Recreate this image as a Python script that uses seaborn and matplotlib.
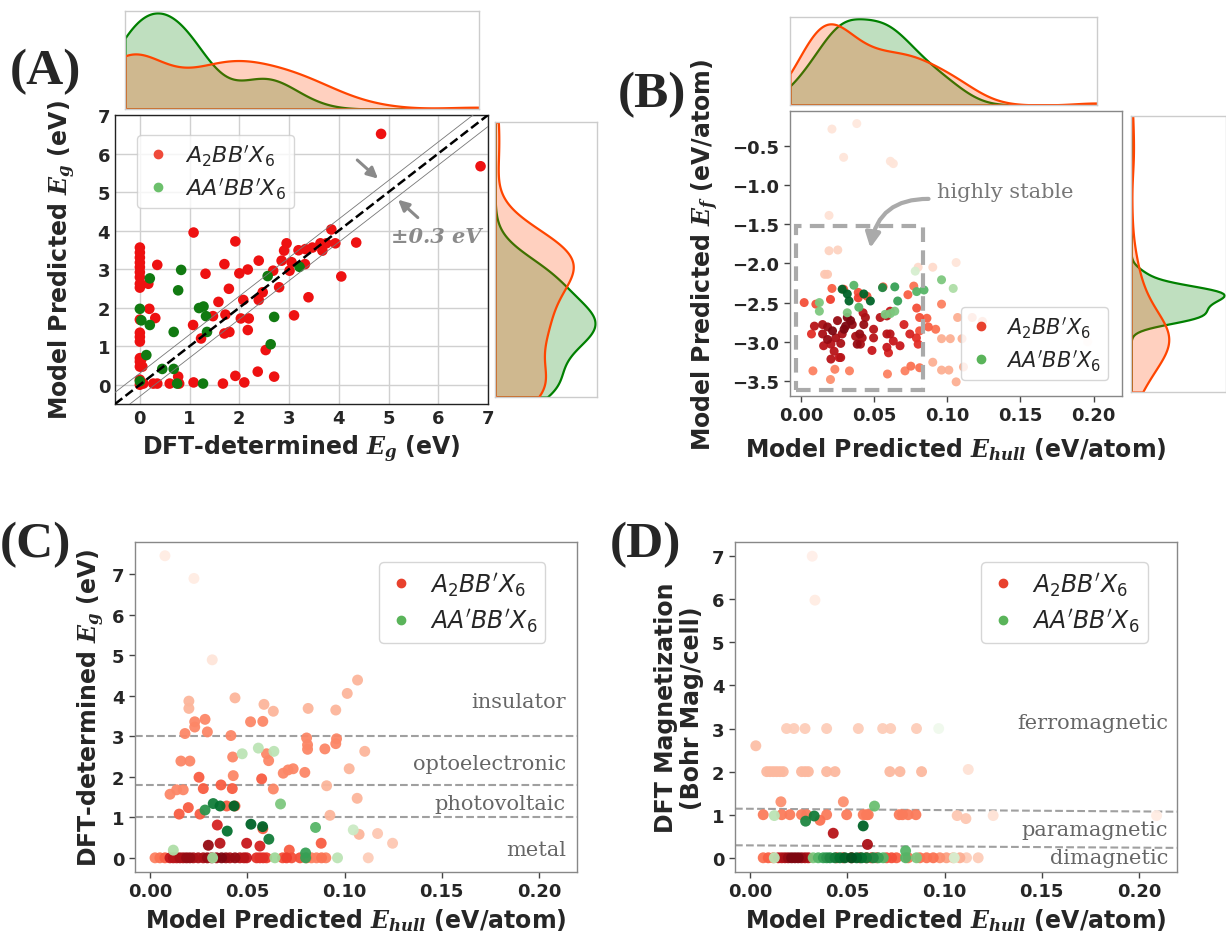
import matplotlib
matplotlib.use("Agg")
import matplotlib.pyplot as plt
import numpy as np
import pandas as pd
import seaborn as sns
from matplotlib.lines import Line2D
from matplotlib.font_manager import FontProperties
from matplotlib.patches import Rectangle, FancyArrowPatch

# ---------------------------------------------------------------- data
# (A) DFT band gap vs model-predicted band gap
a_red_dft = [4.85, 6.85, 3.85, 3.93, 4.35, 4.05, 3.67, 3.75, 3.63, 3.47, 3.33, 3.19, 3.32,
             3.39, 3.10, 2.95, 2.90, 2.85, 3.05, 3.01, 2.80, 2.68, 2.47, 2.39, 2.39, 2.70,
             2.37, 2.53, 2.17, 2.08, 2.19, 2.17, 2.03, 2.10, 1.92, 2.00, 1.92, 1.70, 1.79,
             1.72, 1.70, 1.80, 1.67, 1.58, 1.47, 1.32, 1.23, 1.07, 1.08, 1.08, 0.77, 0.79,
             0.60, 0.35, 0.27, 0.07, 0.35, 0.19, 0.17, 0.31,
             0.0, 0.0, 0.0, 0.0, 0.0, 0.0, 0.0, 0.0, 0.0, 0.0, 0.0, 0.0, 0.0, 0.0, 0.0,
             0.0, 0.0, 0.0, 0.03, 0.05]
a_red_pred = [6.51, 5.67, 4.03, 3.67, 3.69, 2.81, 3.48, 3.67, 3.67, 3.56, 3.52, 3.49, 3.13,
              2.27, 1.80, 3.67, 3.48, 3.22, 3.18, 2.96, 2.53, 2.96, 2.40, 2.20, 3.22, 0.21,
              0.34, 0.90, 2.99, 2.20, 1.72, 1.42, 1.72, 0.06, 0.23, 2.89, 3.72, 3.13, 2.49,
              1.82, 1.33, 1.37, 0.03, 2.15, 1.78, 2.88, 1.20, 1.55, 3.95, 0.06, 0.21, 0.03,
              0.03, 0.03, 0.03, 0.03, 3.11, 1.97, 2.62, 1.73,
              3.56, 3.43, 3.30, 3.17, 3.05, 2.92, 2.79, 2.62, 2.52, 1.69, 1.35, 1.24, 1.12,
              0.69, 0.60, 0.47, 0.13, 0.00, 0.66, 0.47]
a_green_dft = [3.21, 2.57, 2.70, 2.63, 0.83, 0.77, 0.20, 0.20, 0.03, 0.00, 0.13, 1.19, 1.28,
               1.33, 1.35, 0.68, 0.68, 0.45, 0.75, 1.27, 0.00]
a_green_pred = [3.06, 2.82, 1.76, 1.05, 2.98, 2.45, 2.76, 1.55, 1.67, 1.97, 0.77, 1.99, 2.03,
                1.78, 1.37, 1.37, 0.41, 0.41, 0.03, 0.03, 0.09]
band = 0.3

# (B) predicted E_hull vs predicted formation energy; shade = colour intensity
b_red_ehull = [0.009, 0.0146, 0.018, 0.0214, 0.0146, 0.018, 0.0236, 0.0203, 0.027, 0.0153,
               0.0225, 0.0259, 0.0203, 0.027, 0.028, 0.0248, 0.0315, 0.0338, 0.0304, 0.0349,
               0.0293, 0.0372, 0.040, 0.0417, 0.0405, 0.0383, 0.0423, 0.0439, 0.0428, 0.0495,
               0.0484, 0.0495, 0.0586, 0.0608, 0.063, 0.0586, 0.0597, 0.0676, 0.054, 0.0586,
               0.0608, 0.0703, 0.0743, 0.0788, 0.080,
               0.002, 0.010, 0.020, 0.021, 0.029, 0.039, 0.039, 0.045, 0.056, 0.073, 0.077,
               0.079, 0.081, 0.086, 0.087, 0.092, 0.081, 0.007, 0.075, 0.081, 0.071, 0.059,
               0.033, 0.023, 0.008, 0.020, 0.096,
               0.107, 0.117, 0.124, 0.110, 0.102, 0.096, 0.090, 0.096, 0.101, 0.111, 0.106,
               0.021, 0.038, 0.029, 0.061, 0.063, 0.019, 0.019, 0.025, 0.016, 0.018, 0.106,
               0.090, 0.080, 0.196]
b_red_ef = [-2.80, -2.78, -2.81, -2.86, -2.90, -2.97, -2.95, -3.03, -3.02, -3.05,
            -3.12, -3.20, -3.22, -3.20, -2.90, -2.73, -2.69, -2.73, -2.80, -2.78,
            -2.84, -2.93, -2.90, -2.95, -3.03, -3.03, -2.63, -2.69, -2.78, -2.84,
            -3.11, -2.95, -2.90, -2.90, -2.99, -3.07, -3.14, -3.05, -2.69, -2.67,
            -2.61, -2.78, -2.90, -2.95, -3.03,
            -2.50, -2.52, -2.46, -2.32, -2.33, -2.37, -2.44, -2.42, -2.30, -2.40, -2.29,
            -2.57, -2.69, -2.70, -2.81, -2.84, -2.86, -2.90, -3.31, -3.33, -3.37, -3.41,
            -3.37, -3.35, -3.37, -3.48, -2.52,
            -2.69, -2.69, -2.74, -2.96, -2.96, -2.96, -3.26, -3.36, -3.36, -3.32, -3.51,
            -0.29, -0.22, -0.65, -0.70, -0.73, -1.39, -1.84, -1.83, -2.14, -2.14, -1.99,
            -2.05, -2.05, -3.00]
b_red_shade = [0.85, 0.9, 0.95, 1.0, 0.9, 0.95, 0.9, 0.85, 0.9, 0.85,
               0.85, 0.8, 0.85, 0.85, 0.9, 0.95, 1.0, 1.0, 1.0, 0.95,
               1.0, 0.9, 0.95, 0.9, 0.9, 0.95, 0.85, 0.9, 0.95, 0.85,
               0.8, 0.85, 0.85, 0.85, 0.8, 0.8, 0.75, 0.8, 0.85, 0.85,
               0.8, 0.75, 0.75, 0.7, 0.7] + \
              [0.6, 0.6, 0.65, 0.55, 0.6, 0.6, 0.65, 0.6, 0.55, 0.55, 0.5,
               0.6, 0.6, 0.55, 0.55, 0.5, 0.6, 0.7, 0.5, 0.5, 0.45, 0.45,
               0.45, 0.45, 0.45, 0.4, 0.45] + [0.3] * 11 + \
              [0.1, 0.08, 0.1, 0.1, 0.1, 0.12, 0.18, 0.18, 0.22, 0.22, 0.1, 0.15, 0.15, 0.0]
b_green_ehull = [0.0124, 0.0124, 0.028, 0.0315, 0.0327, 0.036, 0.0394, 0.0428, 0.0473,
                 0.0315, 0.0556, 0.064, 0.0574, 0.061, 0.064, 0.066, 0.079, 0.084, 0.096,
                 0.104, 0.078]
b_green_ef = [-2.50, -2.61, -2.33, -2.39, -2.48, -2.28, -2.56, -2.39, -2.48, -2.63, -2.31,
              -2.30, -2.65, -2.64, -2.61, -2.48, -2.36, -2.34, -2.21, -2.32, -2.10]
b_green_shade = [0.5, 0.5, 0.95, 0.95, 0.95, 0.6, 0.6, 0.95, 0.95, 0.5, 0.8, 0.7, 0.5, 0.5,
                 0.5, 0.7, 0.6, 0.6, 0.5, 0.35, 0.2]

# (C) predicted E_hull vs DFT band gap
c_red_ehull = [0.0077, 0.0226, 0.032,
               0.0437, 0.020, 0.020, 0.0586, 0.0634, 0.0813, 0.0955, 0.1014, 0.1067, 0.1104,
               0.1024, 0.1065, 0.0925, 0.1075, 0.117, 0.1247, 0.0908,
               0.0517, 0.058, 0.0283, 0.023, 0.023, 0.018, 0.0295, 0.0416, 0.0805, 0.081,
               0.081, 0.0959, 0.0955, 0.0899, 0.0599, 0.061, 0.0796, 0.0685, 0.071, 0.0736,
               0.0634, 0.0425, 0.0428, 0.0159, 0.0205, 0.0103, 0.0137, 0.0171,
               0.0252, 0.0274, 0.0365, 0.0423, 0.0574, 0.015, 0.0197, 0.0257, 0.0394, 0.0437,
               0.088, 0.0716, 0.058,
               0.0346, 0.036, 0.030, 0.0497, 0.0565,
               0.0026, 0.0051, 0.0077, 0.0103, 0.012, 0.0137, 0.0154, 0.0171, 0.0188, 0.0205,
               0.0223, 0.0248, 0.0274, 0.0295, 0.0317, 0.0342, 0.0368, 0.039, 0.0411, 0.0437,
               0.0462, 0.0483, 0.0497, 0.0548, 0.0565, 0.0582, 0.0599, 0.0682, 0.0702, 0.0728,
               0.0771, 0.0805, 0.083, 0.0856, 0.0882, 0.0904, 0.1122]
c_red_eg = [7.46, 6.90, 4.89,
            3.95, 3.87, 3.69, 3.79, 3.62, 3.69, 3.65, 4.06, 4.39, 2.63, 2.20, 1.47, 1.05,
            0.58, 0.60, 0.36, 1.78,
            3.36, 3.37, 3.42, 3.36, 3.23, 3.07, 3.11, 3.02, 2.96, 2.79, 2.68, 2.94, 2.82,
            2.69, 2.57, 2.40, 2.11, 2.09, 2.17, 2.20, 1.70, 2.49, 2.03, 2.39, 2.39, 1.57,
            1.68, 1.68,
            1.99, 1.71, 1.80, 1.71, 1.95, 1.08, 1.24, 1.08, 1.28, 1.28, 0.36, 0.19, 0.72,
            0.81, 0.36, 0.31, 0.36, 0.29] + [0.0] * 37
c_red_shade = [0.06, 0.06, 0.1] + [0.28] * 14 + [0.22, 0.22, 0.28] + [0.43] * 28 + \
              [0.56] * 13 + [0.75, 0.85, 0.95, 0.8, 0.75] + \
              [0.45, 0.5, 0.55, 0.8, 0.85, 0.85, 0.9, 0.9, 0.95, 0.95, 0.9, 0.9, 0.9, 0.95,
               0.9, 0.95, 1.0, 0.95, 0.9, 0.95, 0.85, 0.85, 0.8, 0.7, 0.7, 0.7, 0.65, 0.6,
               0.65, 0.6, 0.6, 0.5, 0.45, 0.45, 0.5, 0.45, 0.2]
c_green_ehull = [0.012, 0.0283, 0.0325, 0.036, 0.0432, 0.0397, 0.0519, 0.0579, 0.0611,
                 0.0474, 0.0557, 0.0637, 0.0671, 0.0851, 0.1045, 0.0322, 0.0642, 0.080,
                 0.080, 0.0964]
c_green_eg = [0.19, 1.18, 1.34, 1.28, 1.28, 0.66, 0.83, 0.77, 0.46, 2.57, 2.71, 2.63, 1.33,
              0.75, 0.69, 0.0, 0.0, 0.12, 0.0, 0.0]
c_green_shade = [0.35, 0.75, 0.85, 0.9, 0.95, 0.9, 0.95, 0.95, 0.85, 0.3, 0.3, 0.3, 0.5,
                 0.6, 0.25, 0.4, 0.4, 0.7, 0.7, 0.3]
eg_metal, eg_pv, eg_opto = 1.0, 1.8, 3.0

# (D) predicted E_hull vs DFT magnetisation
d_red_ehull = [0.032, 0.0334, 0.003,
               0.0188, 0.0226, 0.0283, 0.0394, 0.0557, 0.0682, 0.0723, 0.0856,
               0.0086, 0.0103, 0.012, 0.0137, 0.0154, 0.0171, 0.0265, 0.0283, 0.0300, 0.0394,
               0.0437, 0.0719, 0.0771, 0.0882, 0.1122,
               0.0159, 0.048,
               0.0068, 0.0163, 0.0205, 0.0265, 0.0291, 0.0394, 0.0497, 0.0582, 0.0599, 0.0608,
               0.0767, 0.0784, 0.0813, 0.0853, 0.1065, 0.111, 0.125, 0.209,
               0.036, 0.0428, 0.0604,
               0.0068, 0.0094, 0.012, 0.0146, 0.0163, 0.0180, 0.0197, 0.0214, 0.0231, 0.0248,
               0.0265, 0.0283, 0.0300, 0.0445, 0.0479, 0.0522, 0.0565, 0.0599, 0.0625, 0.0651,
               0.0702, 0.0728, 0.0753, 0.0813, 0.0873, 0.0908, 0.0942, 0.0976, 0.1010, 0.1045,
               0.1079, 0.1113, 0.1173]
d_red_mag = [7.0, 5.98, 2.6] + [3.0] * 8 + [2.0] * 14 + [2.05, 1.3, 1.3] + \
            [1.0] * 14 + [0.98, 0.91, 0.98, 0.98] + [0.87, 0.57, 0.31] + [0.0] * 33
d_red_shade = [0.04, 0.06, 0.25] + [0.2] * 8 + [0.27] * 14 + [0.12, 0.4, 0.4] + \
              [0.47] * 14 + [0.22, 0.22, 0.12, 0.06] + [0.5, 0.85, 0.9] + \
              [0.5, 0.55, 0.5, 0.8, 0.85, 0.9, 0.95, 1.0, 1.0, 1.0, 0.95, 0.9, 0.85, 0.7,
               0.7, 0.75, 0.8, 0.7, 0.7, 0.65, 0.6, 0.6, 0.55, 0.5, 0.5, 0.5, 0.5,
               0.4, 0.35, 0.3, 0.3, 0.2, 0.2]
d_green_ehull = [0.0125, 0.033, 0.0286, 0.0582, 0.064, 0.080, 0.080, 0.0856, 0.0125,
                 0.105, 0.097,
                 0.0325, 0.0351, 0.0377, 0.0394, 0.0411, 0.0437, 0.0462, 0.0488, 0.0522,
                 0.0548, 0.0574, 0.0599, 0.0634, 0.066, 0.0685]
d_green_mag = [0.98, 0.97, 0.85, 0.74, 1.20, 0.16, 0.0, 0.0, 0.0, 0.0, 3.0] + [0.0] * 15
d_green_shade = [0.3, 0.85, 0.8, 0.95, 0.55, 0.6, 0.6, 0.5, 0.3, 0.2, 0.05,
                 0.5, 0.6, 0.7, 0.75, 0.8, 0.85, 0.9, 0.95, 1.0, 0.95, 0.9, 0.85, 0.8,
                 0.7, 0.6]
mag_para = [1.14, 1.07]   # upper boundary, left -> right
mag_dia = [0.29, 0.23]    # lower boundary, left -> right

series_labels = ["$A_2BB'X_6$", "$AA'BB'X_6$"]
ehull_lim = (-0.0077, 0.2195)

# ---------------------------------------------------------------- style
sns.set_theme(style="white")
plt.rcParams.update({
    "font.family": ["DejaVu Sans"],
    "mathtext.fontset": "custom",
    "mathtext.it": "DejaVu Serif:italic:bold",
    "mathtext.rm": "DejaVu Serif:bold",
    "mathtext.bf": "DejaVu Serif:bold",
    "axes.facecolor": "white",
})

W, H = 1226, 945
fig = plt.figure(figsize=(W / 100, H / 100), dpi=100)


def box(x0, y0, x1, y1):
    return fig.add_axes([x0 / W, 1 - y1 / H, (x1 - x0) / W, (y1 - y0) / H])


TICK_FS = 13
LAB_FS = 17
SERIF = "DejaVu Serif"
RED_LINE, GREEN_LINE = "orangered", "green"


def style_main(ax, spine="#888888"):
    for s in ax.spines.values():
        s.set_color(spine)
        s.set_linewidth(1.0)
    ax.tick_params(axis="both", labelsize=TICK_FS, length=4, width=1, color="#444444",
                   direction="out", bottom=True, left=True)
    for lab in ax.get_xticklabels() + ax.get_yticklabels():
        lab.set_fontweight("bold")


def legend(ax, red, green, fs, **kw):
    handles = [Line2D([], [], ls="none", marker="o", ms=6, color=red),
               Line2D([], [], ls="none", marker="o", ms=6, color=green)]
    ax.legend(handles, series_labels,
              prop=FontProperties(size=fs, math_fontfamily="dejavusans"),
              frameon=True, edgecolor="#cccccc", handletextpad=0.6, borderpad=0.35,
              labelspacing=0.35, handlelength=1.2, **kw)


def marginal(ax, red, green, vertical=False):
    frame = pd.DataFrame({"value": list(red) + list(green),
                          "series": ["red"] * len(red) + ["green"] * len(green)})
    key = "y" if vertical else "x"
    sns.kdeplot(data=frame, **{key: "value"}, hue="series", hue_order=["red", "green"],
                palette={"red": RED_LINE, "green": GREEN_LINE}, ax=ax, fill=True,
                alpha=0.25, linewidth=1.6, cut=0, common_norm=False, common_grid=True,
                legend=False)
    ax.margins(0)
    if vertical:
        ax.set_xlim(0, ax.get_xlim()[1] * 1.02)
    else:
        ax.set_ylim(0, ax.get_ylim()[1] * 1.02)
    ax.set_xticks([])
    ax.set_yticks([])
    ax.set_xlabel("")
    ax.set_ylabel("")
    for s in ax.spines.values():
        s.set_color("#cccccc")
        s.set_linewidth(1.0)


def shaded_scatter(ax, x, y, shade, cmap, size):
    order = np.argsort(shade)
    sns.scatterplot(x=np.asarray(x)[order], y=np.asarray(y)[order],
                    hue=np.asarray(shade)[order], palette=cmap, hue_norm=(0, 1.05),
                    s=size, edgecolor="none", alpha=0.95, legend=False, ax=ax, zorder=3)


# ---------------------------------------------------------------- (A)
axA = box(115, 116, 488, 405)
axA.grid(True, color="#d0d0d0", linewidth=1.0)
axA.set_axisbelow(True)
sns.scatterplot(x=a_red_dft, y=a_red_pred, color="#ee1111", s=58, edgecolor="none",
                ax=axA, zorder=3)
sns.scatterplot(x=a_green_dft, y=a_green_pred, color="#117a11", s=58, edgecolor="none",
                ax=axA, zorder=3)
lim = np.array([-0.5, 7.0])
axA.plot(lim, lim, ls="--", color="black", lw=1.8, zorder=4)
axA.plot(lim, lim + band, color="#777777", lw=0.6, zorder=4)
axA.plot(lim, lim - band, color="#777777", lw=0.6, zorder=4)
axA.set_xlim(*lim)
axA.set_ylim(*lim)
axA.set_xticks(range(8))
axA.set_yticks(range(8))
style_main(axA, spine="#222222")
axA.tick_params(length=0)
axA.set_xlabel("DFT-determined $E_g$ (eV)", fontsize=LAB_FS, fontweight="bold")
axA.set_ylabel("Model Predicted $E_g$ (eV)", fontsize=LAB_FS, fontweight="bold",
               labelpad=14)
legend(axA, "#ef4a3a", "#6cc06c", 16, loc="upper left", bbox_to_anchor=(0.03, 0.97))
arrow_kw = dict(arrowstyle="-|>", color="#8a8a8a", lw=2.2, mutation_scale=16)
axA.annotate("", xy=(4.83, 5.30), xytext=(4.33, 5.88), arrowprops=arrow_kw)
axA.annotate("", xy=(5.15, 4.85), xytext=(5.63, 4.29), arrowprops=arrow_kw)
axA.text(5.05, 3.86, "\u00b10.3 eV", fontsize=15, family=SERIF, style="italic",
         fontweight="bold", color="#8a8a8a", va="center", ha="left")

axAt = box(125, 12, 479, 110)
marginal(axAt, a_red_dft, a_green_dft)
axAr = box(495, 123, 597, 398)
marginal(axAr, a_red_pred, a_green_pred, vertical=True)

# ---------------------------------------------------------------- (B)
axB = box(790, 112, 1122, 397)
shaded_scatter(axB, b_red_ehull, b_red_ef, b_red_shade, "Reds", 42)
shaded_scatter(axB, b_green_ehull, b_green_ef, b_green_shade, "Greens", 42)
axB.set_xlim(*ehull_lim)
axB.set_ylim(-3.69, -0.06)
axB.set_xticks([0, 0.05, 0.10, 0.15, 0.20])
axB.set_yticks([-3.5, -3.0, -2.5, -2.0, -1.5, -1.0, -0.5])
axB.set_xticklabels(["0.00", "0.05", "0.10", "0.15", "0.20"])
axB.set_yticklabels(["\u22123.5", "\u22123.0", "\u22122.5", "\u22122.0", "\u22121.5",
                     "\u22121.0", "\u22120.5"])
style_main(axB)
axB.set_xlabel("Model Predicted $E_{hull}$ (eV/atom)", fontsize=LAB_FS, fontweight="bold",
               labelpad=8)
axB.set_ylabel("Model Predicted $E_f$ (eV/atom)", fontsize=LAB_FS, fontweight="bold",
               labelpad=8)
axB.add_patch(Rectangle((-0.0034, -3.61), 0.0864, 2.09, fill=False, ls=(0, (3.5, 2)),
                        lw=3, ec="#aaaaaa", zorder=5))
axB.text(0.093, -1.08, "highly stable", fontsize=15, family=SERIF, color="#777777",
         va="center", ha="left")
axB.add_patch(FancyArrowPatch((0.089, -1.18), (0.047, -1.84), connectionstyle="arc3,rad=0.45",
                              arrowstyle="-|>", mutation_scale=22, lw=3, color="#aaaaaa"))
legend(axB, "#e8412d", "#5ab45a", 15, loc="lower right", bbox_to_anchor=(0.99, 0.02))

axBt = box(790, 18, 1097, 106)
marginal(axBt, b_red_ehull, b_green_ehull)
axBr = box(1131, 117, 1226, 393)
marginal(axBr, b_red_ef, b_green_ef, vertical=True)

# ---------------------------------------------------------------- (C)
axC = box(135, 543, 577, 873)
shaded_scatter(axC, c_red_ehull, c_red_eg, c_red_shade, "Reds", 62)
shaded_scatter(axC, c_green_ehull, c_green_eg, c_green_shade, "Greens", 62)
axC.set_xlim(*ehull_lim)
axC.set_ylim(-0.35, 7.8)
axC.set_xticks([0, 0.05, 0.10, 0.15, 0.20])
axC.set_xticklabels(["0.00", "0.05", "0.10", "0.15", "0.20"])
axC.set_yticks(range(8))
style_main(axC)
for level in (eg_metal, eg_pv, eg_opto):
    axC.axhline(level, ls="--", color="#a0a0a0", lw=1.5, zorder=2)
ytr = axC.get_yaxis_transform()
for yv, txt in [(3.85, "insulator"), (2.32, "optoelectronic"), (1.33, "photovoltaic"),
                (0.2, "metal")]:
    axC.text(0.975, yv, txt, transform=ytr, ha="right", va="center", fontsize=15,
             family=SERIF, color="#666666")
axC.set_xlabel("Model Predicted $E_{hull}$ (eV/atom)", fontsize=LAB_FS, fontweight="bold")
axC.set_ylabel("DFT-determined $E_g$ (eV)", fontsize=LAB_FS, fontweight="bold")
legend(axC, "#e8412d", "#5ab45a", 17, loc="upper right", bbox_to_anchor=(0.955, 0.975))

# ---------------------------------------------------------------- (D)
axD = box(735, 543, 1177, 873)
shaded_scatter(axD, d_red_ehull, d_red_mag, d_red_shade, "Reds", 62)
shaded_scatter(axD, d_green_ehull, d_green_mag, d_green_shade, "Greens", 62)
axD.set_xlim(*ehull_lim)
axD.set_ylim(-0.33, 7.33)
axD.set_xticks([0, 0.05, 0.10, 0.15, 0.20])
axD.set_xticklabels(["0.00", "0.05", "0.10", "0.15", "0.20"])
axD.set_yticks(range(8))
style_main(axD)
axD.plot(ehull_lim, mag_para, ls="--", color="#a0a0a0", lw=1.5, zorder=2)
axD.plot(ehull_lim, mag_dia, ls="--", color="#a0a0a0", lw=1.5, zorder=2)
ytr = axD.get_yaxis_transform()
for yv, txt in [(3.15, "ferromagnetic"), (0.66, "paramagnetic"), (0.0, "dimagnetic")]:
    axD.text(0.98, yv, txt, transform=ytr, ha="right", va="center", fontsize=15,
             family=SERIF, color="#666666")
axD.set_xlabel("Model Predicted $E_{hull}$ (eV/atom)", fontsize=LAB_FS, fontweight="bold")
axD.set_ylabel("DFT Magnetization\n(Bohr Mag/cell)", fontsize=LAB_FS, fontweight="bold",
               linespacing=1.1, labelpad=6)
legend(axD, "#e8412d", "#5ab45a", 17, loc="upper right", bbox_to_anchor=(0.96, 0.975))

# ---------------------------------------------------------------- panel tags
for (px, py), tag in [((45, 72), "(A)"), ((652, 95), "(B)"), ((35, 545), "(C)"),
                      ((645, 545), "(D)")]:
    fig.text(px / W, 1 - py / H, tag, fontsize=37, fontweight="bold",
             family="Liberation Serif", ha="center", va="center")

fig.savefig("out.png", dpi=100)
